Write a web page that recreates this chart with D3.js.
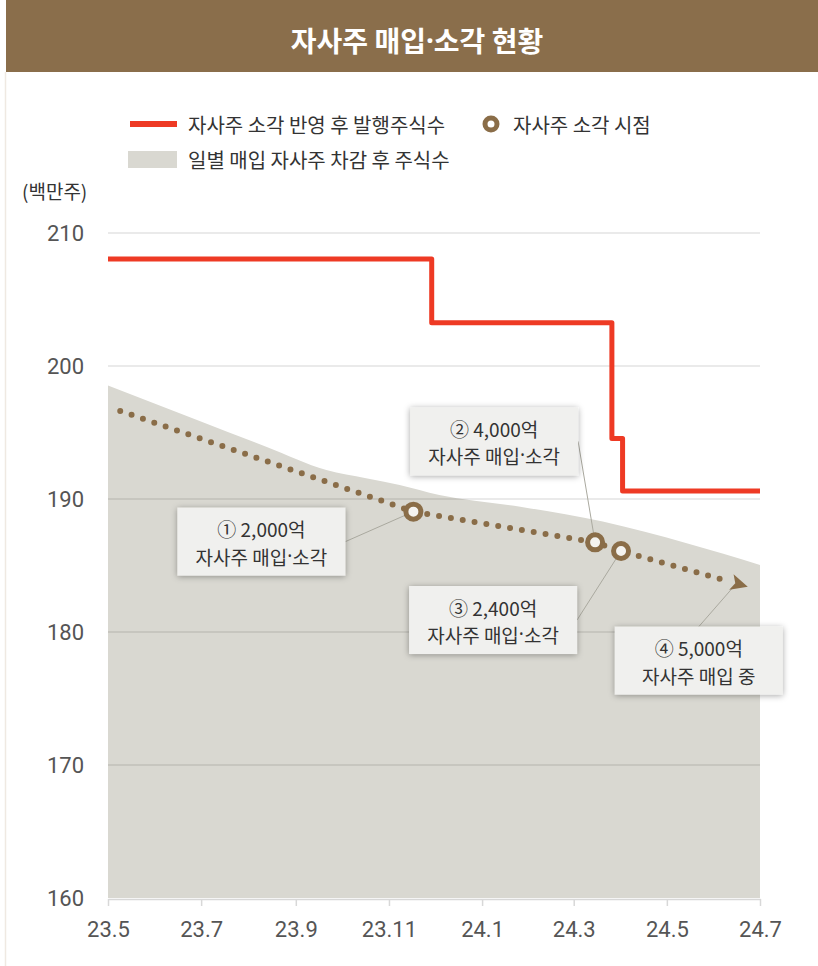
<!DOCTYPE html>
<html>
<meta charset="utf-8">
<style>
    body {
        margin: 0;
        background: #fff;
    }
    text {
        font-family: "Noto Sans CJK KR", "Noto Sans", sans-serif;
    }
    .dot {
        font-family: "Noto Sans", sans-serif;
    }
    .axis text {
        font-family: Roboto, sans-serif;
        font-size: 22px;
        fill: #555;
    }
    .axis path,
    .axis line {
        stroke: #d8d8d8;
        stroke-width: 1.5;
    }
</style>
<body>
<script src="https://cdn.jsdelivr.net/npm/d3@7"></script>
<script>

    // 일별 매입 자사주 차감 후 주식수 (area)
    var areaDates  = ["2023-05-01", "2023-06-30", "2023-08-13", "2023-09-21", "2023-10-17", "2023-11-08",
                      "2023-12-04", "2024-01-26", "2024-03-20", "2024-05-14", "2024-07-01"];
    var areaValues = [198.53, 195.86, 193.91, 192.18, 191.56, 191.05, 190.3, 189.42, 188.3, 186.67, 185.04];

    // 자사주 소각 반영 후 발행주식수 (step line)
    var stepDates  = ["2023-05-01", "2023-11-29", "2024-03-26", "2024-04-02", "2024-07-01"];
    var stepValues = [208.05, 203.25, 194.55, 190.6, 190.6];

    // dotted trend through the cancellation points
    var trendDates  = ["2023-05-09", "2023-11-17", "2024-03-15", "2024-04-01", "2024-06-23"];
    var trendValues = [196.62, 189.05, 186.74, 186.09, 183.41];
    var markerIndex = [1, 2, 3];

    // callouts
    var callNums    = ["①", "②", "③", "④"];
    var callAmounts = ["2,000억", "4,000억", "2,400억", "5,000억"];
    var callTexts   = ["자사주 매입·소각", "자사주 매입·소각", "자사주 매입·소각", "자사주 매입 중"];
    var callAnchor  = [1, 2, 3, 4];

    var yTicks = [160, 170, 180, 190, 200, 210];
    var xTickDates  = ["2023-05-01", "2023-07-01", "2023-09-01", "2023-11-01",
                       "2024-01-01", "2024-03-01", "2024-05-01", "2024-07-01"];
    var xTickLabels = ["23.5", "23.7", "23.9", "23.11", "24.1", "24.3", "24.5", "24.7"];

    var title = "자사주 매입·소각 현황";
    var unitLabel = "(백만주)";
    var legendLabels = ["자사주 소각 반영 후 발행주식수", "자사주 소각 시점", "일별 매입 자사주 차감 후 주식수"];

    var BROWN = "#8a6d48", RED = "#ee3a24", AREA = "#d9d8d1";

    var W = 818, H = 966;
    var margin = {top: 233, right: 58, bottom: 68, left: 108},
        width = W - margin.left - margin.right,
        height = H - margin.top - margin.bottom;

    var parse = d3.timeParse("%Y-%m-%d");

    // writes a label, giving the middle dot a narrow latin glyph
    function dotText(sel, str) {
        var parts = str.split("·");
        parts.forEach(function(p, i) {
            if (i > 0) sel.append("tspan").attr("class", "dot").text("·");
            sel.append("tspan").text(p);
        });
    }

    var x = d3.scaleTime()
        .domain([parse("2023-05-01"), parse("2024-07-01")])
        .range([0, width]);

    var y = d3.scaleLinear()
        .domain([160, 210])
        .range([height, 0]);

    var svg = d3.select("body")
        .append("svg")
        .attr("width", W)
        .attr("height", H);

    var defs = svg.append("defs");
    var shadow = defs.append("filter")
        .attr("id", "shadow")
        .attr("x", "-20%").attr("y", "-30%")
        .attr("width", "140%").attr("height", "160%");
    shadow.append("feDropShadow")
        .attr("dx", 0).attr("dy", 1)
        .attr("stdDeviation", 3)
        .attr("flood-color", "#000")
        .attr("flood-opacity", 0.35);

    // title bar
    svg.append("rect")
        .attr("x", 6).attr("y", 0)
        .attr("width", W - 6).attr("height", 72)
        .attr("fill", "#8a6e4b");
    svg.append("text")
        .attr("x", 417).attr("y", 40)
        .attr("text-anchor", "middle")
        .attr("dominant-baseline", "central")
        .attr("font-size", 28)
        .attr("font-weight", "bold")
        .attr("fill", "#fff")
        .call(dotText, title);
    svg.append("line")
        .attr("x1", 5.5).attr("x2", 5.5)
        .attr("y1", 72).attr("y2", H)
        .attr("stroke", "#efe9e2")
        .attr("stroke-width", 1.5);

    // legend
    var lg = svg.append("g").attr("font-size", 20).attr("fill", "#333");
    lg.append("line")
        .attr("x1", 130).attr("x2", 177)
        .attr("y1", 124).attr("y2", 124)
        .attr("stroke", RED).attr("stroke-width", 6);
    lg.append("text").attr("x", 188).attr("y", 124)
        .attr("dominant-baseline", "central").text(legendLabels[0]);
    lg.append("circle")
        .attr("cx", 491).attr("cy", 124).attr("r", 6)
        .attr("fill", "#fff").attr("stroke", BROWN).attr("stroke-width", 5);
    lg.append("text").attr("x", 513).attr("y", 124)
        .attr("dominant-baseline", "central").text(legendLabels[1]);
    lg.append("rect")
        .attr("x", 128).attr("y", 151)
        .attr("width", 49).attr("height", 17)
        .attr("fill", AREA);
    lg.append("text").attr("x", 188).attr("y", 159)
        .attr("dominant-baseline", "central").text(legendLabels[2]);

    svg.append("text")
        .attr("x", 22).attr("y", 190)
        .attr("dominant-baseline", "central")
        .attr("font-size", 19)
        .attr("fill", "#333")
        .text(unitLabel);

    var g = svg.append("g")
        .attr("transform", "translate(" + margin.left + "," + margin.top + ")");

    // area
    var areaData = areaDates.map(function(d, i) { return {date: parse(d), value: areaValues[i]}; });
    g.append("path")
        .datum(areaData)
        .attr("fill", AREA)
        .attr("d", d3.area()
            .curve(d3.curveMonotoneX)
            .x(function(d) { return x(d.date); })
            .y0(height)
            .y1(function(d) { return y(d.value); }));

    // grid
    g.selectAll(".grid")
        .data(yTicks.slice(1))
        .enter()
        .append("line")
        .attr("class", "grid")
        .attr("x1", 0).attr("x2", width)
        .attr("y1", function(d) { return y(d); })
        .attr("y2", function(d) { return y(d); })
        .attr("stroke", "#000")
        .attr("stroke-opacity", 0.11)
        .attr("stroke-width", 1.5);

    // axes
    g.append("g")
        .attr("class", "axis")
        .attr("transform", "translate(0," + (height + 1) + ")")
        .call(d3.axisBottom(x)
            .tickValues(xTickDates.map(parse))
            .tickFormat(function(d, i) { return xTickLabels[i]; })
            .tickSize(7)
            .tickSizeOuter(0)
            .tickPadding(11))
        .call(function(s) { s.selectAll("text").attr("dy", "0.9em"); });

    g.append("g")
        .attr("class", "axis")
        .call(d3.axisLeft(y)
            .tickValues(yTicks)
            .tickSize(0)
            .tickPadding(24))
        .call(function(s) { s.select(".domain").remove(); });

    // step line
    var stepData = stepDates.map(function(d, i) { return {date: parse(d), value: stepValues[i]}; });
    g.append("path")
        .datum(stepData)
        .attr("fill", "none")
        .attr("stroke", RED)
        .attr("stroke-width", 5)
        .attr("stroke-linejoin", "round")
        .attr("d", d3.line()
            .curve(d3.curveStepAfter)
            .x(function(d) { return x(d.date); })
            .y(function(d) { return y(d.value); }));

    var trend = trendDates.map(function(d, i) {
        return {x: x(parse(d)), y: y(trendValues[i])};
    });

    // callout boxes
    var boxW = 168, boxH = 68;
    var boxOffset = [[-152, 30], [-101, -101], [-128, 69], [-49, 74]];
    var leaderFrom = ["right", "right", "right", "top"];

    var boxes = callNums.map(function(n, i) {
        var a = trend[callAnchor[i]];
        var cx = a.x + boxOffset[i][0], cy = a.y + boxOffset[i][1];
        var sx = leaderFrom[i] == "right" ? cx + boxW / 2 : cx;
        var sy = leaderFrom[i] == "right" ? cy : cy - boxH / 2;
        var ex = a.x, ey = a.y;
        if (i == 3) { ex = a.x - 15; ey = a.y + 1; }
        return {cx: cx, cy: cy, sx: sx, sy: sy, ex: ex, ey: ey, i: i};
    });

    g.selectAll(".leader")
        .data(boxes)
        .enter()
        .append("line")
        .attr("class", "leader")
        .attr("x1", function(d) { return d.sx; })
        .attr("y1", function(d) { return d.sy; })
        .attr("x2", function(d) { return d.ex; })
        .attr("y2", function(d) { return d.ey; })
        .attr("stroke", "#aaa99f")
        .attr("stroke-width", 1);

    // dotted trend + arrow head
    var n = trend.length;
    var tip = trend[n - 1], prev = trend[n - 2];
    var ang = Math.atan2(tip.y - prev.y, tip.x - prev.x);
    var base = {x: tip.x - 17 * Math.cos(ang), y: tip.y - 17 * Math.sin(ang)};

    g.append("path")
        .datum(trend.slice(0, n - 1).concat([{x: base.x - 6 * Math.cos(ang), y: base.y - 6 * Math.sin(ang)}]))
        .attr("fill", "none")
        .attr("stroke", BROWN)
        .attr("stroke-width", 6)
        .attr("stroke-linecap", "round")
        .attr("stroke-dasharray", "0 12")
        .attr("d", d3.line()
            .x(function(d) { return d.x; })
            .y(function(d) { return d.y; }));

    g.append("path")
        .attr("fill", BROWN)
        .attr("d", "M0,0L-17,-8L-13,0L-17,8Z")
        .attr("transform", "translate(" + tip.x + "," + tip.y + ") rotate(" + (ang * 180 / Math.PI) + ")");

    g.selectAll(".marker")
        .data(markerIndex)
        .enter()
        .append("circle")
        .attr("class", "marker")
        .attr("cx", function(d) { return trend[d].x; })
        .attr("cy", function(d) { return trend[d].y; })
        .attr("r", 7.5)
        .attr("fill", "#f4f3f0")
        .attr("stroke", BROWN)
        .attr("stroke-width", 5);

    var bg = g.selectAll(".callout")
        .data(boxes)
        .enter()
        .append("g")
        .attr("class", "callout")
        .attr("transform", function(d) { return "translate(" + d.cx + "," + d.cy + ")"; });

    bg.append("rect")
        .attr("x", -boxW / 2).attr("y", -boxH / 2)
        .attr("width", boxW).attr("height", boxH)
        .attr("fill", "#f0f0ee")
        .attr("filter", "url(#shadow)");

    bg.append("text")
        .attr("y", -13)
        .attr("text-anchor", "middle")
        .attr("dominant-baseline", "central")
        .attr("font-size", 19)
        .attr("fill", "#333")
        .text(function(d) { return callNums[d.i] + " " + callAmounts[d.i]; });

    bg.append("text")
        .attr("y", 14)
        .attr("text-anchor", "middle")
        .attr("dominant-baseline", "central")
        .attr("font-size", 19)
        .attr("fill", "#333")
        .each(function(d) { d3.select(this).call(dotText, callTexts[d.i]); });

</script>
</body>
</html>
